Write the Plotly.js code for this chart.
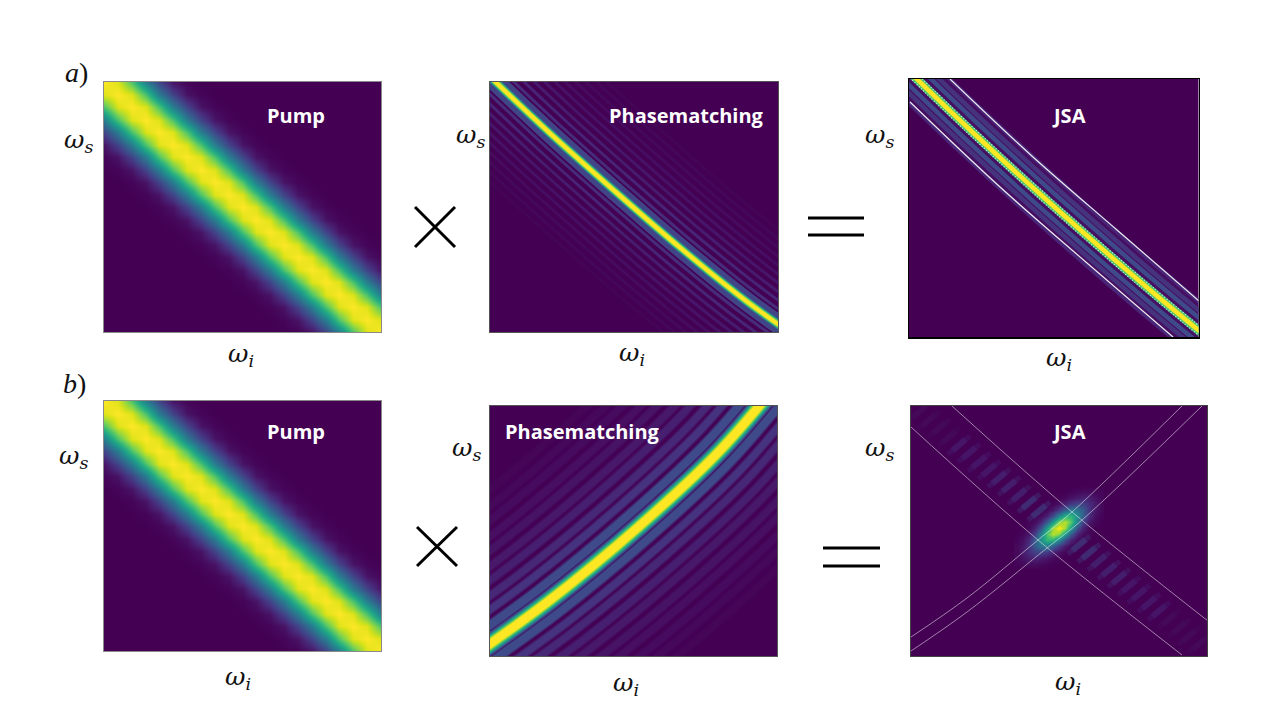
<!DOCTYPE html>
<html>
<head>
<meta charset="utf-8">
<script src="https://cdn.plot.ly/plotly-3.0.1.min.js"></script>
<style>html,body{margin:0;padding:0;background:#fff}#chart{width:1280px;height:720px}</style>
</head>
<body>
<div id="chart"></div>
<script>
const pumpAxis = [0,5,10,15,20,25,30,35,40,45,50,55,60,65,70,75,80,85,90,95,100];
const pumpZ = [
  [0,0,0,0,0,0,0,0,0,0,0,0,0,0,.01,.05,.2,.42,.72,.95,1],
  [0,0,0,0,0,0,0,0,0,0,0,0,0,.01,.05,.2,.42,.72,.95,1,.95],
  [0,0,0,0,0,0,0,0,0,0,0,0,.01,.05,.2,.42,.72,.95,1,.95,.72],
  [0,0,0,0,0,0,0,0,0,0,0,.01,.05,.2,.42,.72,.95,1,.95,.72,.42],
  [0,0,0,0,0,0,0,0,0,0,.01,.05,.2,.42,.72,.95,1,.95,.72,.42,.2],
  [0,0,0,0,0,0,0,0,0,.01,.05,.2,.42,.72,.95,1,.95,.72,.42,.2,.05],
  [0,0,0,0,0,0,0,0,.01,.05,.2,.42,.72,.95,1,.95,.72,.42,.2,.05,.01],
  [0,0,0,0,0,0,0,.01,.05,.2,.42,.72,.95,1,.95,.72,.42,.2,.05,.01,0],
  [0,0,0,0,0,0,.01,.05,.2,.42,.72,.95,1,.95,.72,.42,.2,.05,.01,0,0],
  [0,0,0,0,0,.01,.05,.2,.42,.72,.95,1,.95,.72,.42,.2,.05,.01,0,0,0],
  [0,0,0,0,.01,.05,.2,.42,.72,.95,1,.95,.72,.42,.2,.05,.01,0,0,0,0],
  [0,0,0,.01,.05,.2,.42,.72,.95,1,.95,.72,.42,.2,.05,.01,0,0,0,0,0],
  [0,0,.01,.05,.2,.42,.72,.95,1,.95,.72,.42,.2,.05,.01,0,0,0,0,0,0],
  [0,.01,.05,.2,.42,.72,.95,1,.95,.72,.42,.2,.05,.01,0,0,0,0,0,0,0],
  [.01,.05,.2,.42,.72,.95,1,.95,.72,.42,.2,.05,.01,0,0,0,0,0,0,0,0],
  [.05,.2,.42,.72,.95,1,.95,.72,.42,.2,.05,.01,0,0,0,0,0,0,0,0,0],
  [.2,.42,.72,.95,1,.95,.72,.42,.2,.05,.01,0,0,0,0,0,0,0,0,0,0],
  [.42,.72,.95,1,.95,.72,.42,.2,.05,.01,0,0,0,0,0,0,0,0,0,0,0],
  [.72,.95,1,.95,.72,.42,.2,.05,.01,0,0,0,0,0,0,0,0,0,0,0,0],
  [.95,1,.95,.72,.42,.2,.05,.01,0,0,0,0,0,0,0,0,0,0,0,0,0],
  [1,.95,.72,.42,.2,.05,.01,0,0,0,0,0,0,0,0,0,0,0,0,0,0]
];

// top phasematching
const pm1X = [-20,58,124,191,258,320];
const pm1Y = [275,201,142,84,30,-14];
const pm1StripeX = [
  [-11,67,133,200,267,329],[-29,49,115,182,249,311],
  [-6,72,138,205,272,334],[-34,44,110,177,244,306],
  [-1,77,143,210,277,339],[-39,39,105,172,239,301],
  [4,82,148,215,282,344],[-44,34,100,167,234,296],
  [9,87,153,220,287,349],[-49,29,95,162,229,291],
  [14,92,158,225,292,354],[-54,24,90,157,224,286],
  [19,97,163,230,297,359],[-59,19,85,152,219,281],
  [24,102,168,235,302,364],[-64,14,80,147,214,276],
  [29,107,173,240,307,369],[-69,9,75,142,209,271],
  [34,112,178,245,312,374],[-74,4,70,137,204,266]
];
const pm1StripeY = [
  [284,210,151,93,39,-5],[266,192,133,75,21,-23],
  [289,215,156,98,44,0],[261,187,128,70,16,-28],
  [294,220,161,103,49,5],[256,182,123,65,11,-33],
  [299,225,166,108,54,10],[251,177,118,60,6,-38],
  [304,230,171,113,59,15],[246,172,113,55,1,-43],
  [309,235,176,118,64,20],[241,167,108,50,-4,-48],
  [314,240,181,123,69,25],[236,162,103,45,-9,-53],
  [319,245,186,128,74,30],[231,157,98,40,-14,-58],
  [324,250,191,133,79,35],[226,152,93,35,-19,-63],
  [329,255,196,138,84,40],[221,147,88,30,-24,-68]
];

// top JSA
const jsa1X = [-20,58,141,241,320];
const jsa1Y = [285,210,134,47,-18];
const jsa1LobeX = [
  [-13,65,148,248,327],[-27,51,134,234,313],
  [-9,69,152,252,331],[-31,47,130,230,309],
  [-4,74,157,257,336],[-36,42,125,225,304]
];
const jsa1LobeY = [
  [292,217,141,54,-11],[278,203,127,40,-25],
  [296,221,145,58,-7],[274,199,123,36,-29],
  [301,226,150,63,-2],[269,194,118,31,-34]
];
const jsa1UpperX = [41,124,208,290];
const jsa1UpperY = [258,180,107,36];
const jsa1LowerX = [1,91,178,264];
const jsa1LowerY = [235,150,74,0];

// bottom phasematching
const pm2X = [-60,58,150,231,320];
const pm2Y = [-30,54,130,206,312];
const pm2StripeX = [
  [-71,47,139,220,309],[-49,69,161,242,331],
  [-80,38,130,211,300],[-40,78,170,251,340],
  [-88,30,122,203,292],[-32,86,178,259,348],
  [-97,21,113,194,283],[-23,95,187,268,357],
  [-105,13,105,186,275],[-15,103,195,276,365],
  [-114,4,96,177,266],[-6,112,204,285,374],
  [-122,-4,88,169,258],[2,120,212,293,382],
  [-131,-13,79,160,249],[11,129,221,302,391],
  [-139,-21,71,152,241],[19,137,229,310,399],
  [-148,-30,62,143,232],[28,146,238,319,408]
];
const pm2StripeY = [
  [-19,65,141,217,323],[-41,43,119,195,301],
  [-10,74,150,226,332],[-50,34,110,186,292],
  [-2,82,158,234,340],[-58,26,102,178,284],
  [7,91,167,243,349],[-67,17,93,169,275],
  [15,99,175,251,357],[-75,9,85,161,267],
  [24,108,184,260,366],[-84,0,76,152,258],
  [32,116,192,268,374],[-92,-8,68,144,250],
  [41,125,201,277,383],[-101,-17,59,135,241],
  [49,133,209,285,391],[-109,-25,51,127,233],
  [58,142,218,294,400],[-118,-34,42,118,224]
];

// bottom JSA
const blobX = [106,112,118,124,130,136,142,148,154,160,166,172,178,184,190];
const blobY = [86,92,98,104,110,116,122,128,134,140,146,152,158,164,170];
const blobZ = [
  [0,0,0,0,0,0,0,0,0,0,0,0,0,0,0],
  [.01,.02,.03,.03,.02,.01,0,0,0,0,0,0,0,0,0],
  [.02,.05,.08,.09,.07,.05,.02,.01,0,0,0,0,0,0,0],
  [.02,.07,.13,.19,.21,.17,.10,.04,.01,0,0,0,0,0,0],
  [.02,.06,.15,.29,.39,.41,.30,.17,.07,.02,0,0,0,0,0],
  [.01,.04,.12,.29,.51,.66,.64,.46,.24,.09,.03,.01,0,0,0],
  [0,.02,.06,.19,.44,.73,.90,.82,.55,.28,.10,.03,.01,0,0],
  [0,0,.02,.09,.26,.55,.86,1,.86,.55,.26,.09,.02,0,0],
  [0,0,.01,.03,.10,.28,.55,.82,.90,.73,.44,.19,.06,.02,0],
  [0,0,0,.01,.03,.09,.24,.46,.64,.66,.51,.29,.12,.04,.01],
  [0,0,0,0,0,.02,.07,.17,.30,.41,.39,.29,.15,.06,.02],
  [0,0,0,0,0,0,.01,.04,.10,.17,.21,.19,.13,.07,.02],
  [0,0,0,0,0,0,0,.01,.02,.05,.07,.09,.08,.05,.02],
  [0,0,0,0,0,0,0,0,0,.01,.02,.03,.03,.02,.01],
  [0,0,0,0,0,0,0,0,0,0,0,0,0,0,0]
];
// stripes along the band, each one [x0,y0,x1,y1], brightest group first
const jsa2Stripes = [
  [[117,136,139,154],[107,144,129,162],[157,102,179,120],[167,94,189,112]],
  [[97,152,119,170],[87,161,109,179],[77,169,99,187],[177,86,199,104],[187,77,209,95],[197,69,219,87]],
  [[67,177,89,195],[57,185,79,203],[47,194,69,212],[37,202,59,220],[207,61,229,79],[217,53,239,71],[227,44,249,62],[237,36,259,54]],
  [[27,210,49,228],[17,219,39,237],[7,227,29,245],[-3,235,19,253],[247,28,269,46],[257,19,279,37],[267,11,289,29],[277,3,299,21]]
];
const jsa2UpX = [41,161,297];
const jsa2UpY = [250,144,35];
const jsa2LowX = [0,127,271];
const jsa2LowY = [229,116,1];
const jsa2DiagUpX = [0,56,127,161,271];
const jsa2DiagUpY = [19,58,116,144,250];
const jsa2DiagLowX = [0,56,136,171,291];
const jsa2DiagLowY = [5,44,108,136,250];

// panel boxes in page pixels: left, right, top, bottom
const panels = [
  [104,381,82,332],[489.5,778,82,332],[909,1198.5,79,337],
  [104,381,401,651],[489.5,777,406,656],[911,1207,406,656]
];
const lineColors = ['#8a8a8a','#555','#000','#8a8a8a','#555','#444'];
const lineWidths = [1,1,1.5,1,1,1];
const labels = [
  ['Pump',296,116],['Phasematching',686,116],['JSA',1069,116],
  ['Pump',296,431],['Phasematching',582,431],['JSA',1069,431]
];
const omegaS = [[78,141],[470,136],[879,136],[73,457],[466,449],[879,449]];
const omegaI = [[241,355],[632,354],[1059,359],[238,678],[626,684],[1068,683]];

const px = x => x / 1280;
const py = y => 1 - y / 720;

function heat(x, y, z, n) {
  return { type: 'heatmap', x, y, z, zmin: 0, zmax: 1, colorscale: 'Viridis', showscale: false,
    zsmooth: 'best', hoverinfo: 'skip', xaxis: 'x' + n, yaxis: 'y' + n };
}
function curve(x, y, width, color, n, opacity) {
  return { type: 'scatter', mode: 'lines', x, y, hoverinfo: 'skip', opacity: opacity === undefined ? 1 : opacity,
    line: { width, color, shape: 'spline', smoothing: 1 }, xaxis: 'x' + n, yaxis: 'y' + n };
}
function layers(x, y, styles, n) {
  return styles.map(s => curve(x, y, s[0], s[1], n));
}

const traces = [];
traces.push(heat(pumpAxis, pumpAxis, pumpZ, 1));
traces.push(heat(pumpAxis, pumpAxis, pumpZ, 4));

// top phasematching
const pm1Colors = ['#462c7b','#472475','#471c6e','#47166a','#471166','#460e62','#460b5f','#45095c','#45075a','#450557'];
pm1StripeX.forEach((x, i) => traces.push(curve(x, pm1StripeY[i], 3, pm1Colors[Math.floor(i / 2)], 2)));
traces.push(...layers(pm1X, pm1Y, [[19,'#414487'],[9,'#2a788e'],[7.5,'#22a884'],[6,'#7ad151'],[4,'#fde725']], 2));

// top JSA
traces.push(curve(jsa1X, jsa1Y, 40, '#470f62', 3));
const jsa1Colors = ['#3e4a89','#3e4a89','#46337e','#46337e','#482576','#482576'];
jsa1LobeX.forEach((x, i) => traces.push(curve(x, jsa1LobeY[i], 4.5, jsa1Colors[i], 3)));
traces.push(curve(jsa1X, jsa1Y, 9, '#35b779', 3));
const speckle = curve(jsa1X, jsa1Y, 9, '#d5f2e0', 3);
speckle.line.dash = '1px,2px';
traces.push(speckle);
traces.push(curve(jsa1X, jsa1Y, 6.5, '#5ec962', 3));
traces.push(curve(jsa1X, jsa1Y, 4.5, '#fde725', 3));
traces.push(curve(jsa1UpperX, jsa1UpperY, 1.2, 'rgba(255,255,255,.9)', 3));
traces.push(curve(jsa1LowerX, jsa1LowerY, 1.2, 'rgba(255,255,255,.9)', 3));

// bottom phasematching
const pm2Colors = ['#3f4a8a','#46337f','#472877','#471f70','#48186a','#471365','#470e61','#460b5e','#45085b','#450658'];
pm2StripeX.forEach((x, i) => {
  const k = Math.floor(i / 2);
  const w = k === 0 ? 8 : 7;
  traces.push(curve(x, pm2StripeY[i], w + 3, pm2Colors[k], 5, .45));
  traces.push(curve(x, pm2StripeY[i], w, pm2Colors[k], 5));
});
traces.push(...layers(pm2X, pm2Y, [[20,'#3e4a89'],[17.5,'#2a788e'],[15,'#22a884'],[12,'#5ec962'],[10,'#b5de2b'],[8,'#fde725']], 5));

// bottom JSA
traces.push(heat(blobX, blobY, blobZ, 6));
const stripeColors = ['#3f4a8a','#46337e','#482576','#47105f'];
jsa2Stripes.forEach((group, g) => {
  const xs = [], ys = [], xm = [], ym = [];
  group.forEach(s => {
    xs.push(s[0], s[2], null); ys.push(s[1], s[3], null);
    // shorter inner piece so the stripe looks rounded
    xm.push(s[0] + (s[2] - s[0]) * .2, s[0] + (s[2] - s[0]) * .8, null);
    ym.push(s[1] + (s[3] - s[1]) * .2, s[1] + (s[3] - s[1]) * .8, null);
  });
  traces.push({ type: 'scatter', mode: 'lines', x: xs, y: ys, hoverinfo: 'skip', opacity: .3,
    line: { width: 5, color: stripeColors[g] }, xaxis: 'x6', yaxis: 'y6' });
  traces.push({ type: 'scatter', mode: 'lines', x: xm, y: ym, hoverinfo: 'skip', opacity: .4,
    line: { width: 6.5, color: stripeColors[g] }, xaxis: 'x6', yaxis: 'y6' });
});
[[jsa2UpX, jsa2UpY], [jsa2LowX, jsa2LowY], [jsa2DiagUpX, jsa2DiagUpY], [jsa2DiagLowX, jsa2DiagLowY]].forEach(c => {
  traces.push(curve(c[0], c[1], 1, 'rgba(255,255,255,.5)', 6));
});

const layout = {
  width: 1280, height: 720, showlegend: false, margin: { l: 0, r: 0, t: 0, b: 0 },
  paper_bgcolor: '#fff', plot_bgcolor: '#440154', annotations: [], shapes: []
};
panels.forEach((p, i) => {
  const n = i + 1;
  const pump = i === 0 || i === 3;
  const base = { showgrid: false, zeroline: false, showticklabels: false, ticks: '', showline: true, mirror: true,
    linecolor: lineColors[i], linewidth: lineWidths[i] };
  layout['xaxis' + n] = Object.assign({}, base, { domain: [px(p[0]), px(p[1])], anchor: 'y' + n,
    range: pump ? [0, 100] : [0, p[1] - p[0]] });
  layout['yaxis' + n] = Object.assign({}, base, { domain: [py(p[3]), py(p[2])], anchor: 'x' + n,
    range: pump ? [0, 100] : [0, p[3] - p[2]] });
});

function note(text, x, y, size, family, color) {
  layout.annotations.push({ text, xref: 'paper', yref: 'paper', x: px(x), y: py(y),
    xanchor: 'center', yanchor: 'middle', showarrow: false, font: { size, family, color } });
}
labels.forEach(l => note('<b>' + l[0] + '</b>', l[1], l[2], 20, 'Open Sans', '#fff'));
omegaS.forEach(o => note('<i>ω<sub>s</sub></i>', o[0], o[1], 25, 'DejaVu Serif', '#111'));
omegaI.forEach(o => note('<i>ω<sub>i</sub></i>', o[0], o[1], 25, 'DejaVu Serif', '#111'));
note('<i>a</i>)', 76, 73, 28, 'Liberation Serif', '#111');
note('<i>b</i>)', 74, 383, 28, 'Liberation Serif', '#111');

// the × and = signs between the panels
function stroke(x0, y0, x1, y1) {
  layout.shapes.push({ type: 'line', xref: 'paper', yref: 'paper', x0: px(x0), y0: py(y0), x1: px(x1), y1: py(y1),
    line: { color: '#000', width: 3 } });
}
stroke(415, 207, 455, 247); stroke(455, 207, 415, 247);
stroke(417, 527, 457, 566); stroke(457, 527, 417, 566);
stroke(808, 218, 864, 218); stroke(808, 235, 864, 235);
stroke(823, 548, 880, 548); stroke(823, 566, 880, 566);

Plotly.newPlot('chart', traces, layout, { displayModeBar: false, staticPlot: true });
</script>
</body>
</html>
